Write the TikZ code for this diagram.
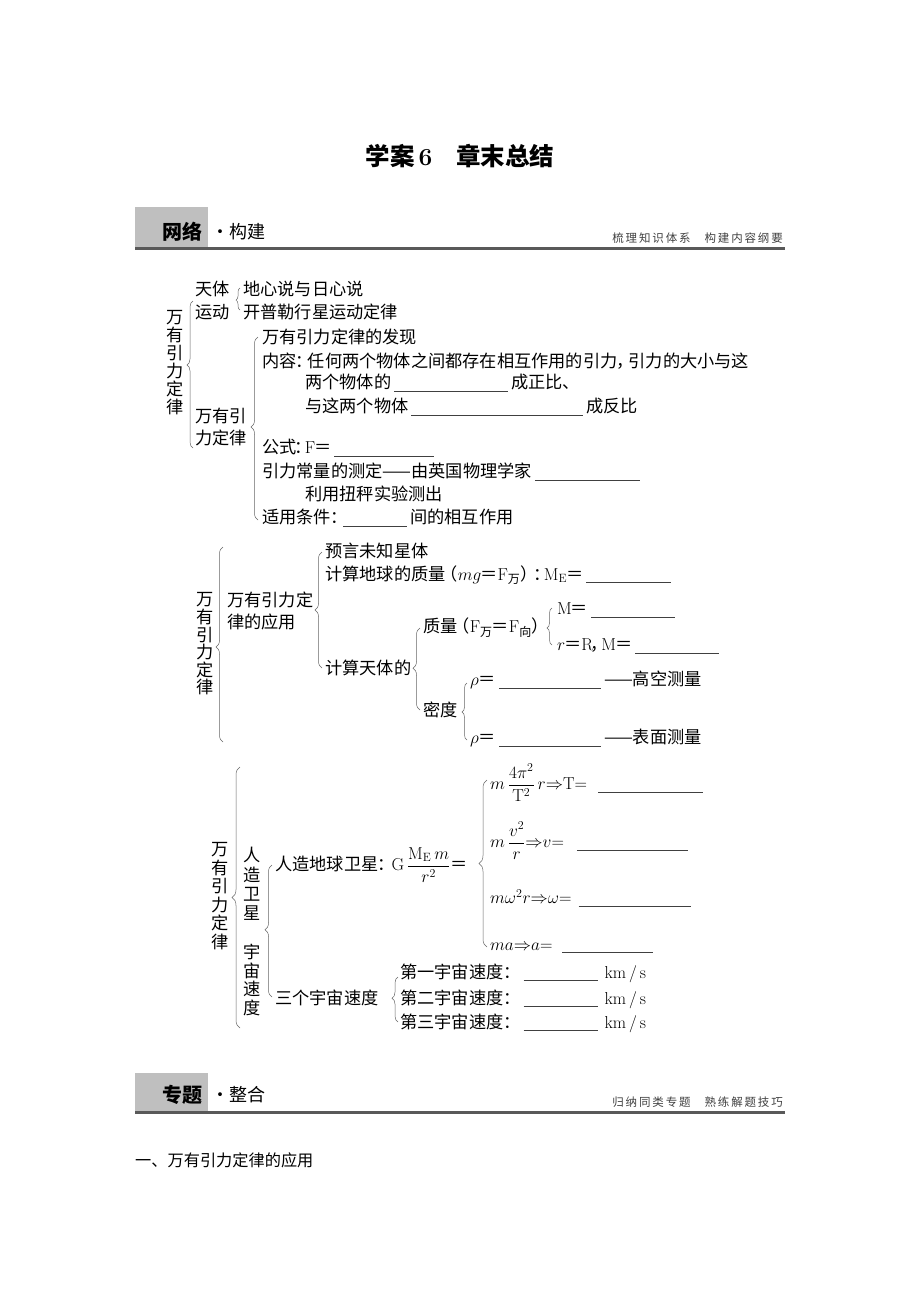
\documentclass[tikz,border=0pt]{standalone}
\usepackage[no-math]{fontspec}
\usepackage{amsmath}
\usetikzlibrary{decorations.pathreplacing}
\newfontfamily\cjk{Noto Sans CJK SC}
\newfontfamily\cjksp[LetterSpace=16]{Noto Sans CJK SC}
\newcommand\fillin[1]{\hspace{3pt}\textcolor{black!75}{\rule[-3pt]{#1pt}{0.8pt}}\hspace{3pt}}
\begin{document}
\begin{tikzpicture}[x=1pt, y=-1pt,
  txt/.style={anchor=west, inner sep=0pt, font=\cjk\fontsize{17.2}{17.2}\selectfont},
  vtxt/.style={inner sep=0pt, align=center, font=\cjk\fontsize{17.2}{#1}\selectfont},
  lbrace/.style={decorate, decoration={brace, amplitude=#1}, draw=black!60, line width=0.5pt},
  hdrbox/.style={fill=black!25},
  hdrline/.style={draw=black!65, line width=3pt},
  hdrnote/.style={anchor=east, inner sep=0pt, text=black!75, font=\cjksp\fontsize{11.5}{11.5}\selectfont}]
\useasboundingbox [fill=white] (0,0) rectangle (920,1302);
\node [inner sep=0pt, font=\cjk\bfseries\fontsize{24.5}{24.5}\selectfont] (title) at (460,156) {学案{\rmfamily\bfseries\,6}\hspace{24pt}章末总结};
% header one
\fill [hdrbox] (135,207) rectangle (208,247);
\draw [hdrline] (135,248.5) -- (785,248.5);
\node [txt, font=\cjk\bfseries\fontsize{20}{20}\selectfont] (wl) at (162,232) {网络};
\node [txt, font=\cjk\fontsize{18}{18}\selectfont] (gj) at (211,232) {·构建};
\node [hdrnote] (sl) at (783,238) {梳理知识体系\hspace{14pt}构建内容纲要};
% the law itself
\node [vtxt=18] (v1) at (175,363) {万\\有\\引\\力\\定\\律};
\draw [lbrace=6pt, decoration={aspect=0.565}] (193,448) -- (193,301);
\node [txt] (tt) at (195,289) {天体};
\node [txt] (yd) at (195,312) {运动};
\draw [lbrace=4pt, decoration={aspect=0.45}] (240,310) -- (240,288);
\node [txt] (dx) at (243,289) {地心说与日心说};
\node [txt] (kp) at (243,312) {开普勒行星运动定律};
\node [txt] (wy1) at (195,416) {万有引};
\node [txt] (wy2) at (195,438) {力定律};
\draw [lbrace=7pt, decoration={aspect=0.508}] (258,520) -- (258,337);
\node [txt] (fx) at (262,337) {万有引力定律的发现};
\node [txt] (nr) at (262,361) {内容\kern-1pt：\kern-5pt任何两个物体之间都存在相互作用的引力\kern-1pt，\kern-5pt引力的大小与这};
\node [txt] (zb) at (305,383) {两个物体的\fillin{114}成正比、};
\node [txt] (fb) at (305,407) {与这两个物体\fillin{172}成反比};
\node [txt] (gs) at (262,448) {公式\kern-2pt：\kern-7pt$\mathrm{F}$\kern-1pt＝\fillin{100}};
\node [txt] (cl) at (262,472) {引力常量的测定——由英国物理学家\fillin{105}};
\node [txt] (nc) at (305,494) {利用扭秤实验测出};
\node [txt] (sy) at (262,518) {适用条件\kern-1pt：\kern-7pt\fillin{64}间的相互作用};
% applications
\node [vtxt=17.6] (v2) at (205,644) {万\\有\\引\\力\\定\\律};
\draw [lbrace=7pt, decoration={aspect=0.487}] (223,742) -- (223,547);
\node [txt] (yy1) at (227,600) {万有引力定};
\node [txt] (yy2) at (227,622) {律的应用};
\draw [lbrace=7pt] (322,668) -- (322,552);
\node [txt] (yy) at (325,551) {预言未知星体};
\node [txt] (dq) at (325,575) {计算地球的质量\kern-5pt（$mg$\kern-1pt＝$\mathrm{F}_\text{万}$）\kern-4pt：\kern-7pt$\mathrm{M_E}$\kern-1pt＝\fillin{85}};
\node [txt] (tj) at (325,668) {计算天体的};
\draw [lbrace=7pt, decoration={aspect=0.51}] (420,710) -- (420,628);
\node [txt] (zl) at (423,628) {质量\kern-5pt（$\mathrm{F}_\text{万}$\kern-1pt＝$\mathrm{F}_\text{向}$）};
\draw [lbrace=5pt, decoration={aspect=0.46}] (552,645) -- (552,608);
\node [txt] (m1) at (557,610) {$\mathrm{M}$\kern-1pt＝\fillin{84}};
\node [txt] (m2) at (557,646) {$r$\kern-1pt＝$\mathrm{R}$\kern-3pt，\kern-6pt$\mathrm{M}$\kern-1pt＝\fillin{84}};
\node [txt] (md) at (423,710) {密度};
\draw [lbrace=5pt, decoration={aspect=0.49}] (467,740) -- (467,683);
\node [txt] (gk) at (470,680) {$\rho$＝\fillin{102}——高空测量};
\node [txt] (bm) at (470,738) {$\rho$＝\fillin{102}——表面测量};
% satellites
\node [vtxt=18.6] (v3) at (220,896) {万\\有\\引\\力\\定\\律};
\draw [lbrace=8pt] (240,1028) -- (240,767);
\node [vtxt=19.4] (rz) at (252,884) {人\\造\\卫\\星};
\node [vtxt=18.7] (yz) at (252,980) {宇\\宙\\速\\度};
\draw [lbrace=7pt, decoration={aspect=0.51}] (272,997) -- (272,865);
\node [txt] (wx) at (275,865) {人造地球卫星\kern-1pt：\kern-3pt$\mathrm{G}\,\dfrac{\mathrm{M_E}\,m}{r^2}$＝};
\draw [lbrace=8pt] (487,947) -- (487,780);
\node [txt] (fT) at (490,783) {$m\,\dfrac{4\pi^2}{\mathrm{T}^2}\,r{\Rightarrow}\mathrm{T}{=}$\hspace{8pt}\fillin{105}};
\node [txt] (fv) at (490,841) {$m\,\dfrac{v^2}{r}{\Rightarrow}v{=}$\hspace{10pt}\fillin{111}};
\node [txt] (fw) at (490,898) {$m\omega^2r{\Rightarrow}\omega{=}$\hspace{4pt}\fillin{112}};
\node [txt] (fa) at (490,948) {$ma{\Rightarrow}a{=}$\hspace{7pt}\fillin{91}};
\node [txt] (sg) at (275,998) {三个宇宙速度};
\draw [lbrace=6pt, decoration={aspect=0.53}] (398,1022) -- (398,977);
\node [txt] (s1) at (400,973) {第一宇宙速度：\fillin{74}\hspace{4pt}{\rmfamily km\,/\,s}};
\node [txt] (s2) at (400,999) {第二宇宙速度：\fillin{74}\hspace{4pt}{\rmfamily km\,/\,s}};
\node [txt] (s3) at (400,1023) {第三宇宙速度：\fillin{74}\hspace{4pt}{\rmfamily km\,/\,s}};
% header two
\fill [hdrbox] (135,1073) rectangle (208,1111);
\draw [hdrline] (135,1112.5) -- (785,1112.5);
\node [txt, font=\cjk\bfseries\fontsize{20}{20}\selectfont] (zt) at (162,1095) {专题};
\node [txt, font=\cjk\fontsize{18}{18}\selectfont] (zh) at (211,1095) {·整合};
\node [hdrnote] (gn) at (783,1102) {归纳同类专题\hspace{14pt}熟练解题技巧};
\node [txt, font=\cjk\fontsize{16.2}{16.2}\selectfont] (yi) at (135,1160) {一、万有引力定律的应用};
\end{tikzpicture}
\end{document}
